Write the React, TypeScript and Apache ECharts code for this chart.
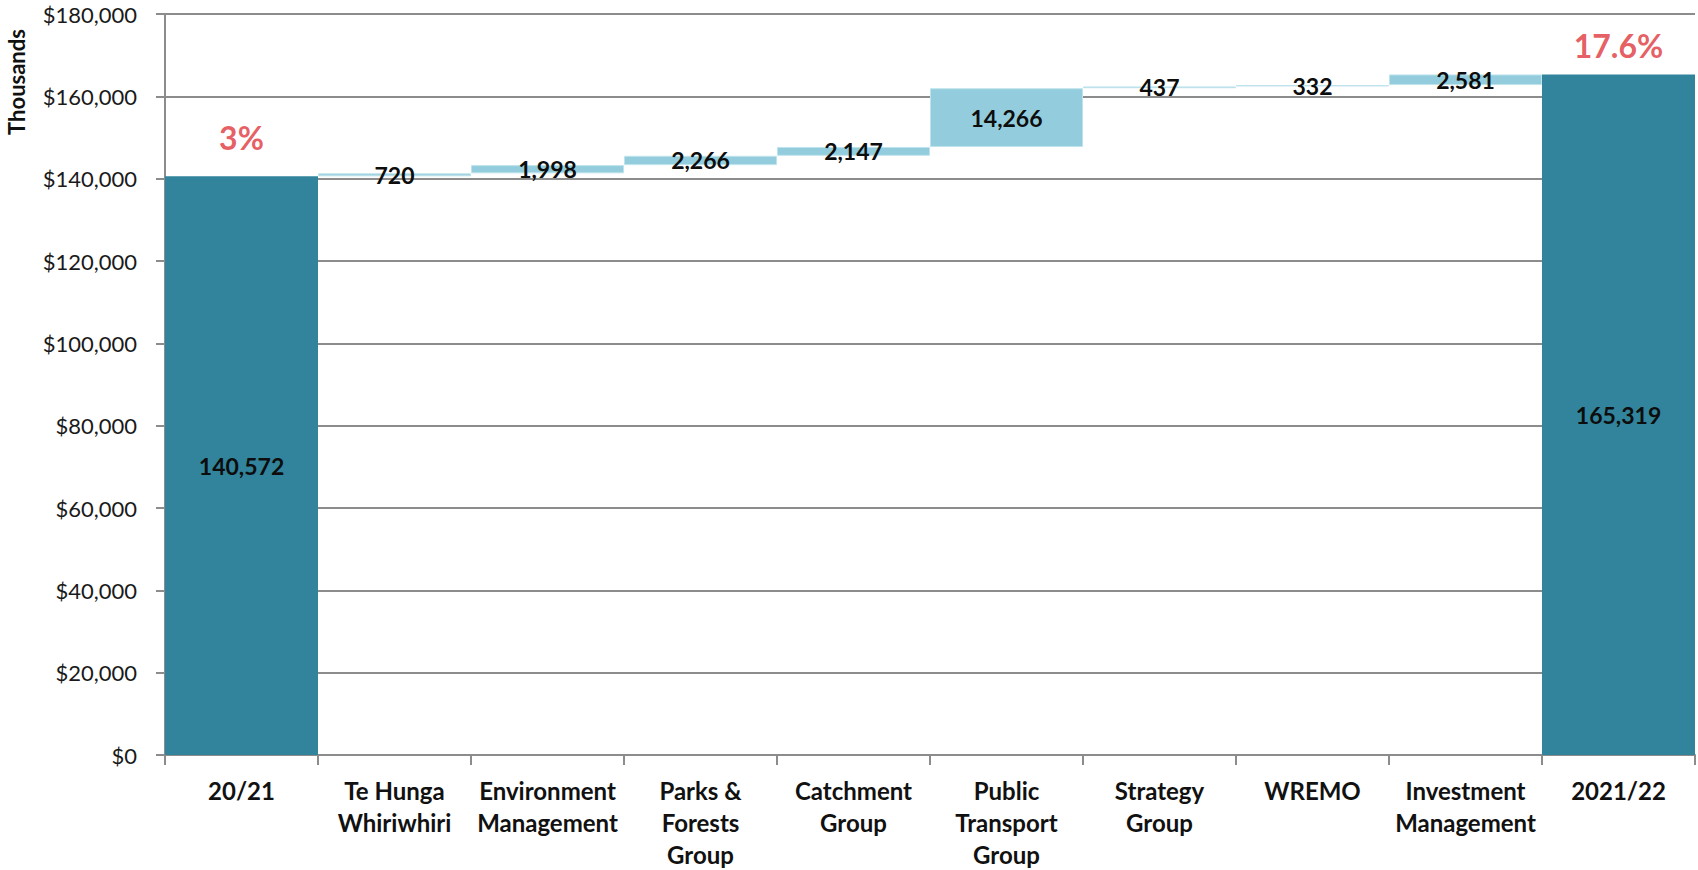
import React, { useEffect, useRef } from "react";
import * as echarts from "echarts";

const categories = [
  "20/21",
  "Te Hunga\nWhiriwhiri",
  "Environment\nManagement",
  "Parks &\nForests\nGroup",
  "Catchment\nGroup",
  "Public\nTransport\nGroup",
  "Strategy\nGroup",
  "WREMO",
  "Investment\nManagement",
  "2021/22",
];
const startTotal = 140572;
const deltas = [720, 1998, 2266, 2147, 14266, 437, 332, 2581];
const endTotal = 165319;
const percentLabels = ["3%", "17.6%"];
const yTicks = { min: 0, max: 180000, interval: 20000 };

const FONT = "Lato, 'Noto Sans', sans-serif";

export default function App() {
  const ref = useRef<HTMLDivElement>(null);
  useEffect(() => {
    if (!ref.current) return;
    const chart = echarts.init(ref.current, null, { renderer: "svg" });

    const n = categories.length;
    const base: (number | string)[] = [];
    const totals: (number | string)[] = [];
    const changes: (number | string)[] = [];
    let running = startTotal;
    base.push(0);
    totals.push(startTotal);
    changes.push("-");
    deltas.forEach((d) => {
      base.push(running);
      totals.push("-");
      changes.push(d);
      running += d;
    });
    base.push(0);
    totals.push(endTotal);
    changes.push("-");

    const fmt = (v: number) => v.toLocaleString("en-US");

    const pctData = [
      { value: [0, startTotal], label: { formatter: percentLabels[0], distance: 23 } },
      { value: [n - 1, endTotal], label: { formatter: percentLabels[1], distance: 13 } },
    ];

    chart.setOption({
      animation: false,
      textStyle: { fontFamily: FONT },
      grid: { left: 165, right: 3, top: 14, bottom: 112, containLabel: false },
      xAxis: {
        type: "category",
        data: categories,
        boundaryGap: true,
        axisLine: { lineStyle: { color: "#8c8c8c", width: 2 } },
        axisTick: { show: true, length: 10, lineStyle: { color: "#8c8c8c", width: 2 } },
        axisLabel: {
          interval: 0,
          fontSize: 24,
          fontWeight: "bold",
          lineHeight: 32,
          color: "#111",
          margin: 19,
          fontFamily: FONT,
        },
        splitLine: { show: false },
      },
      yAxis: {
        type: "value",
        min: yTicks.min,
        max: yTicks.max,
        interval: yTicks.interval,
        axisLine: { show: true, lineStyle: { color: "#8c8c8c", width: 2 } },
        axisTick: { show: true, length: 9, lineStyle: { color: "#8c8c8c", width: 2 } },
        axisLabel: {
          fontSize: 22,
          color: "#1a1a1a",
          margin: 28,
          fontFamily: FONT,
          formatter: (v: number) => "$" + fmt(v),
        },
        splitLine: { show: true, lineStyle: { color: "#8c8c8c", width: 2 } },
      },
      series: [
        {
          type: "bar",
          stack: "wf",
          data: base,
          barCategoryGap: "0%",
          itemStyle: { color: "transparent" },
          silent: true,
        },
        {
          type: "bar",
          stack: "wf",
          data: changes,
          barCategoryGap: "0%",
          itemStyle: { color: "#93CDDD", borderColor: "#bfe3ec", borderWidth: 1 },
          label: {
            show: true,
            position: "inside",
            fontSize: 23,
            fontWeight: "bold",
            color: "#0d0d0d",
            fontFamily: FONT,
            formatter: (p: any) => fmt(p.value),
          },
        },
        {
          type: "bar",
          stack: "wf",
          data: totals,
          barCategoryGap: "0%",
          itemStyle: { color: "#31849B" },
          label: {
            show: true,
            position: "inside",
            fontSize: 23,
            fontWeight: "bold",
            color: "#0d0d0d",
            fontFamily: FONT,
            formatter: (p: any) => fmt(p.value),
          },
        },
        {
          type: "scatter",
          data: pctData,
          symbolSize: 0,
          silent: true,
          label: {
            show: true,
            position: "top",
            fontSize: 32,
            fontWeight: "bold",
            color: "#E0353B",
            fontFamily: FONT,
          },
        },
      ],
      graphic: [
        {
          type: "text",
          x: 16,
          y: 82,
          rotation: Math.PI / 2,
          style: {
            text: "Thousands",
            fontSize: 22,
            fontWeight: "bold",
            fontFamily: FONT,
            fill: "#111",
            textAlign: "center",
            textVerticalAlign: "middle",
          },
        },
      ],
    });
    return () => chart.dispose();
  }, []);
  return (
    <div
      ref={ref}
      style={{ position: "absolute", left: 0, top: 0, width: 1698, height: 870 }}
    />
  );
}
